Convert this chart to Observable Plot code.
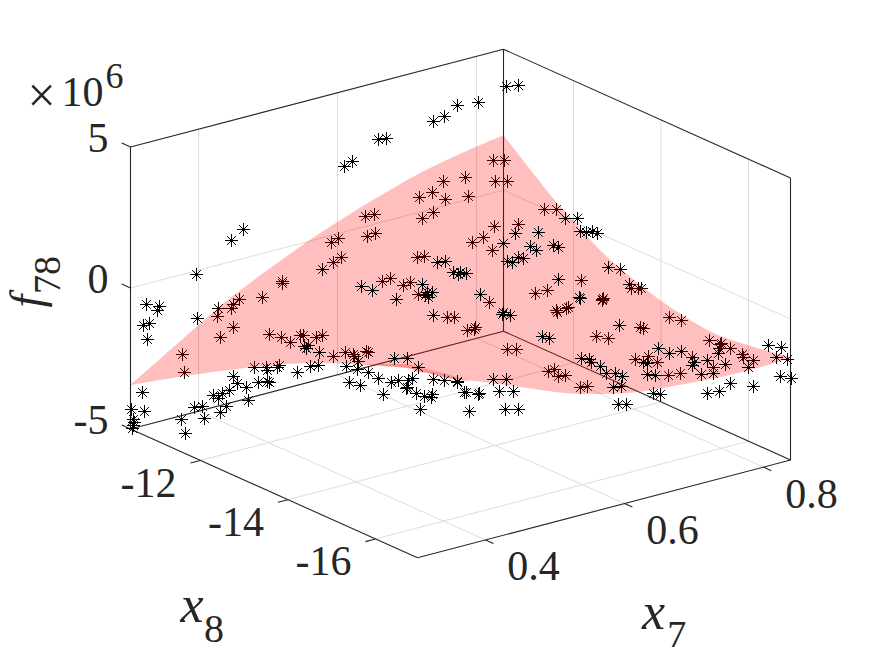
<!DOCTYPE html>
<html>
<head>
<meta charset="utf-8">
<script src="https://cdn.jsdelivr.net/npm/d3@7"></script>
<script src="https://cdn.jsdelivr.net/npm/@observablehq/plot@0.6"></script>
<style>body{margin:0;background:#fff}</style>
</head>
<body>
<div id="chart"></div>
<script>
// axis limits and ticks
const x7Lim = [0.302, 0.839];
const x8Lim = [-16.96, -10.4];
const fLim = [-5, 5];
const x7Ticks = [0.4, 0.6, 0.8];
const x8Ticks = [-12, -14, -16];
const fTicks = [5, 0, -5];

// outline of the surface, left corner > back > right > front > left
const edgeX7 = [0.302, 0.41, 0.453, 0.547, 0.597, 0.648, 0.715, 0.791, 0.839, 0.839, 0.839, 0.839, 0.839, 0.839, 0.839, 0.839, 0.839, 0.82, 0.734, 0.656, 0.609, 0.522, 0.465, 0.393, 0.345, 0.316, 0.302, 0.302, 0.302, 0.302, 0.302, 0.302];
const edgeX8 = [-10.4, -10.4, -10.4, -10.4, -10.4, -10.4, -10.4, -10.4, -10.4, -11.59, -11.8, -12.67, -13.29, -14.05, -15.19, -16.09, -16.96, -16.96, -16.96, -16.96, -16.96, -16.96, -16.96, -16.96, -16.96, -16.96, -16.96, -16.73, -16.18, -15.82, -14.29, -11.93];
const edgeF = [-3.44, -1.8, -1.19, -0.1, 0.39, 0.84, 1.36, 1.76, 1.95, 0.44, 0.24, -0.64, -1.05, -1.43, -1.72, -1.58, -1.35, -1.41, -1.4, -1.26, -1.13, -0.59, -0.05, 0.66, 1.1, 1.46, 1.6, 1.57, 1.26, 1.04, 0.04, -1.99];
const edgeCorners = [0, 8, 16];

// thin part where the surface folds over itself near the front corner
const foldX7 = [0.302, 0.302, 0.302, 0.316, 0.345, 0.378, 0.345, 0.316, 0.302, 0.302];
const foldX8 = [-15.66, -16.18, -16.73, -16.96, -16.96, -16.96, -16.96, -16.96, -16.73, -16.18];
const foldF = [0.96, 1.33, 1.71, 1.6, 1.24, 0.75, 1.1, 1.46, 1.57, 1.26];

// samples, [across, up] on the view plane
// behind the surface
const starsBehind = [[52,74],[54,56],[90,91],[103,101],[88,120],[87,112],[109,129],[103,124],[101,120],[132,131],[152,147],[152,145],[139,94],[151,91],[160,86],[170,93],[124,61],[136,61],[137,58],[147,61],[149,63],[173,93],[186,91],[192,93],[178,83],[174,82],[203,72],[215,76],[223,74],[224,72],[236,77],[238,76],[201,186],[208,190],[203,166],[211,171],[235,212],[244,214],[237,192],[245,195],[252,147],[260,150],[273,143],[280,146],[288,134],[287,171],[294,172],[292,210],[303,216],[289,231],[302,236],[313,247],[335,251],[338,232],[315,229],[363,268],[374,268],[365,247],[377,247],[342,186],[364,202],[388,204],[353,191],[362,178],[317,111],[324,111],[337,98],[344,99],[345,101],[414,219],[426,219],[490,159],[501,140],[508,140],[511,140],[451,148],[417,138],[405,135],[359,126],[472,129],[472,128],[473,130],[438,121],[436,120],[426,118],[427,116],[466,92],[478,90],[510,101],[513,100],[377,79],[386,79],[418,57],[424,59],[428,52],[435,53],[450,41],[457,42],[505,69],[539,111],[551,108],[579,88],[590,84],[591,85],[589,80],[600,80],[612,74],[613,71],[623,68],[562,71],[583,61],[550,55],[538,53],[527,66],[518,72],[657,69]];
// in front of the surface or clear of it
const starsFront = [[113,199],[101,188],[66,154],[16,124],[29,122],[27,118],[67,110],[13,103],[19,105],[17,89],[12,36],[14,17],[1,19],[3,9],[3,3],[2,0],[4,6],[103,52],[107,45],[128,46],[139,46],[137,47],[116,41],[99,38],[92,35],[83,33],[88,30],[118,28],[96,22],[90,16],[72,22],[64,21],[74,10],[51,9],[55,-5],[167,56],[222,267],[214,262],[256,290],[248,289],[327,323],[348,326],[314,312],[303,307],[376,342],[388,343],[192,159],[231,142],[242,138],[266,129],[292,144],[297,136],[302,136],[298,131],[295,133],[307,166],[315,167],[323,156],[330,156],[336,155],[328,154],[303,113],[350,134],[176,80],[189,76],[180,62],[188,63],[216,62],[228,67],[227,59],[238,56],[248,50],[219,46],[230,43],[253,34],[264,70],[277,70],[288,61],[261,46],[268,48],[278,48],[277,41],[282,50],[276,40],[286,35],[294,32],[302,34],[301,31],[290,19],[303,49],[314,48],[327,47],[327,46],[334,36],[336,36],[348,34],[339,17],[435,210],[447,210],[450,197],[456,196],[462,197],[467,195],[385,195],[408,196],[373,185],[400,182],[406,178],[423,183],[428,181],[393,170],[388,171],[382,166],[377,167],[478,161],[499,144],[428,149],[449,131],[450,130],[372,114],[373,116],[380,113],[489,103],[412,92],[419,90],[451,70],[459,69],[461,66],[470,62],[476,55],[485,55],[492,52],[483,41],[491,42],[488,24],[496,24],[363,49],[376,49],[349,35],[369,37],[383,37],[375,19],[388,19],[638,83],[651,81],[646,71],[618,61],[650,52],[661,50],[623,42],[600,45],[589,37],[577,35],[528,80],[539,75],[551,77],[564,66],[562,63],[577,68],[588,75],[595,64],[583,55],[571,54],[525,53],[517,54],[513,66],[517,65],[523,35],[530,34]];

// MATLAB view(3) style projection onto the view plane
function project(x7, x8, f) {
  return {
    h: 287 + (x7 - x7Lim[0]) * 694.6 - (x8 - x8Lim[0]) * 43.75,
    v: -129.3 + (x7 - x7Lim[0]) * 182.1 + (x8 - x8Lim[0]) * 19.63 + (f - fLim[0]) * 28.2
  };
}
const seg = (a, b) => {
  const p = project(...a), q = project(...b);
  return {x1: p.h, y1: p.v, x2: q.h, y2: q.v};
};
const [x0, x1] = x7Lim, [y0, y1] = x8Lim, [z0, z1] = fLim;

const grid = [
  ...x7Ticks.map(t => seg([t, y0, z0], [t, y1, z0])),
  ...x8Ticks.map(t => seg([x0, t, z0], [x1, t, z0])),
  ...x7Ticks.map(t => seg([t, y1, z0], [t, y1, z1])),
  ...x8Ticks.map(t => seg([x1, t, z0], [x1, t, z1])),
  seg([x0, y1, 0], [x1, y1, 0]),
  seg([x1, y1, 0], [x1, y0, 0])
];
const box = [
  seg([x0, y1, z0], [x0, y0, z0]), seg([x0, y0, z0], [x1, y0, z0]),
  seg([x0, y1, z0], [x1, y1, z0]), seg([x1, y1, z0], [x1, y0, z0]),
  seg([x0, y1, z1], [x1, y1, z1]), seg([x1, y1, z1], [x1, y0, z1]),
  seg([x0, y1, z0], [x0, y1, z1]), seg([x1, y1, z0], [x1, y1, z1]),
  seg([x1, y0, z0], [x1, y0, z1]),
  ...fTicks.map(t => seg([x0, y1, t], [x0, y1 + 0.2, t])),
  ...x8Ticks.map(t => seg([x0, t, z0], [x0 - 0.0145, t, z0])),
  ...x7Ticks.map(t => seg([t, y0, z0], [t, y0 - 0.18, z0]))
];

// corners repeated so the smooth curve stays sharp there
const outline = edgeX7.flatMap((d, i) => {
  const p = project(d, edgeX8[i], edgeF[i]);
  return edgeCorners.includes(i) ? [p, p, p] : [p];
});
const fold = foldX7.map((d, i) => project(d, foldX8[i], foldF[i]));

// eight armed marker
const star = {
  draw(ctx, size) {
    const r = Math.sqrt(size / Math.PI), d = r * 0.68;
    ctx.moveTo(-r, 0); ctx.lineTo(r, 0);
    ctx.moveTo(0, -r); ctx.lineTo(0, r);
    ctx.moveTo(-d, -d); ctx.lineTo(d, d);
    ctx.moveTo(-d, d); ctx.lineTo(d, -d);
  }
};
const stars = (data) => Plot.dot(data, {x: "0", y: "1", r: 6.5, symbol: star, fill: "none", stroke: "#000", strokeWidth: 1});

const serif = "Liberation Serif";
const textColor = "#262626";
const label = (text, at, o) => Plot.text([at], {
  x: "h", y: "v", text: [text], fill: textColor, fontSize: 42, fontFamily: serif, ...o
});
const corner = project(x0, y1, 5);
const mid8 = project(x0, -13.68, -5);
const mid7 = project(0.57, y0, -5);
const f0 = project(x0, y1, 0);

const chart = Plot.plot({
  width: 875,
  height: 656,
  margin: 0,
  x: {domain: [0, 660], range: [130, 790], axis: null},
  y: {domain: [0, 381], range: [428, 47], axis: null},
  style: {background: "#fff", overflow: "visible"},
  marks: [
    Plot.link(grid, {x1: "x1", y1: "y1", x2: "x2", y2: "y2", stroke: "#dcdcdc", strokeWidth: 1}),
    Plot.link(box, {x1: "x1", y1: "y1", x2: "x2", y2: "y2", stroke: "#262626", strokeWidth: 1.1}),
    stars(starsBehind),
    Plot.line(outline, {x: "h", y: "v", curve: "catmull-rom-closed", fill: "#ff0000", fillOpacity: 0.25, stroke: "none"}),
    Plot.line(fold, {x: "h", y: "v", curve: "linear-closed", fill: "#ff0000", fillOpacity: 0.25, stroke: "none"}),
    stars(starsFront),
    // tick labels
    Plot.text(fTicks, {x: () => project(x0, y1, 0).h, y: d => project(x0, y1, d).v, text: d => String(d), textAnchor: "end", dx: -22, dy: -8, fontSize: 42, fontFamily: serif, fill: textColor}),
    Plot.text(x8Ticks, {x: d => project(x0, d, z0).h, y: d => project(x0, d, z0).v, text: d => String(d), dx: -52, dy: 23, fontSize: 42, fontFamily: serif, fill: textColor}),
    Plot.text(x7Ticks, {x: d => project(d, y0, z0).h, y: d => project(d, y0, z0).v, text: d => d.toFixed(1), dx: 48, dy: 27, fontSize: 42, fontFamily: serif, fill: textColor}),
    // exponent
    label("×", corner, {dx: -89, dy: -51, fontSize: 50}),
    label("10", corner, {dx: -48, dy: -54}),
    label("6", corner, {dx: -16, dy: -71, fontSize: 36}),
    // axis titles
    label("x", mid8, {dx: -82, dy: 112, fontSize: 52, fontStyle: "italic"}),
    label("8", mid8, {dx: -60, dy: 136, fontSize: 40}),
    label("x", mid7, {dx: 50, dy: 103, fontSize: 52, fontStyle: "italic"}),
    label("7", mid7, {dx: 73, dy: 126, fontSize: 38}),
    label("f", f0, {dx: -103, dy: 13, fontSize: 46, fontStyle: "italic", rotate: -90}),
    label("78", f0, {dx: -83, dy: -13, fontSize: 38, rotate: -90})
  ]
});
d3.select("#chart").append(() => chart);
</script>
</body>
</html>
